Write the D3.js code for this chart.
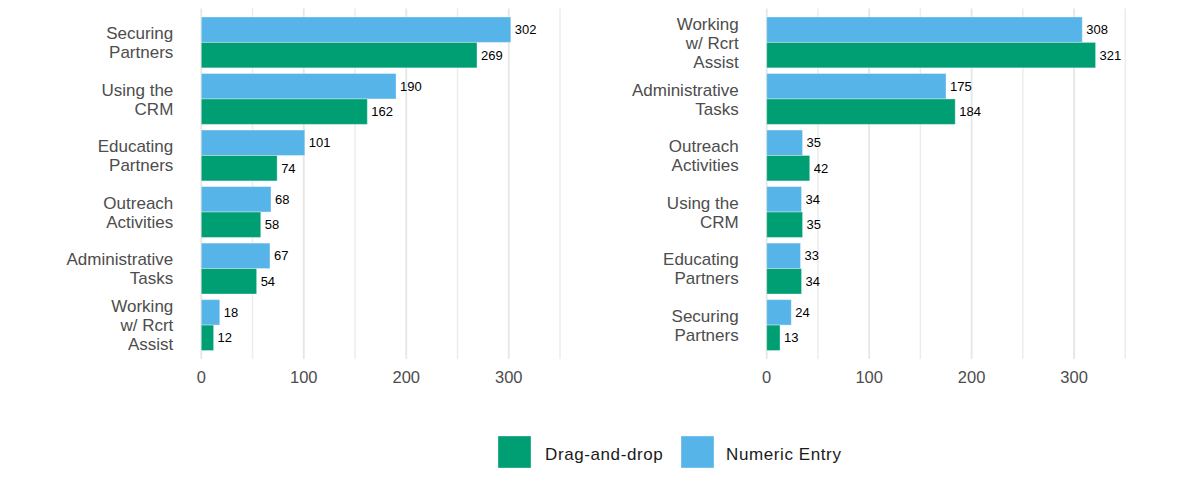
<!DOCTYPE html>
<html>
<head>
<meta charset="utf-8">
<script src="https://cdn.jsdelivr.net/npm/d3@7"></script>
<style>
  html, body { margin: 0; padding: 0; background: #ffffff; }
  svg { display: block; font-family: "Liberation Sans", Arial, sans-serif; }
</style>
</head>
<body>
<svg id="chart" width="1179" height="489"></svg>
<script>
// ---- data ----
const seriesNames = ["Numeric Entry", "Drag-and-drop"];
const seriesColors = ["#56B4E9", "#009E73"];
const legendOrder = ["Drag-and-drop", "Numeric Entry"];

const leftCategories = ["Securing\nPartners", "Using the\nCRM", "Educating\nPartners", "Outreach\nActivities", "Administrative\nTasks", "Working\nw/ Rcrt\nAssist"];
const leftNumeric = [302, 190, 101, 68, 67, 18];
const leftDrag = [269, 162, 74, 58, 54, 12];

const rightCategories = ["Working\nw/ Rcrt\nAssist", "Administrative\nTasks", "Outreach\nActivities", "Using the\nCRM", "Educating\nPartners", "Securing\nPartners"];
const rightNumeric = [308, 175, 35, 34, 33, 24];
const rightDrag = [321, 184, 42, 35, 34, 13];

const xTicks = [0, 100, 200, 300];
const xGrid = [0, 50, 100, 150, 200, 250, 300, 350];

// ---- layout ----
const svg = d3.select("#chart");
const panelTop = 8.5, panelBottom = 359;
const colorOf = d3.scaleOrdinal().domain(seriesNames).range(seriesColors);

function drawPanel(x0, x350, categories, numeric, drag) {
  const g = svg.append("g");
  const x = d3.scaleLinear().domain([0, 350]).range([x0, x350]);
  const y = d3.scaleBand().domain(categories).range([panelTop, panelBottom])
    .paddingInner(0.1).paddingOuter(0.15);
  const ySub = d3.scaleBand().domain(seriesNames).range([0, y.bandwidth()]).padding(0);

  // gridlines
  g.selectAll("line.grid").data(xGrid).join("line")
    .attr("x1", d => x(d)).attr("x2", d => x(d))
    .attr("y1", panelTop).attr("y2", panelBottom)
    .attr("stroke", d => d % 100 === 0 ? "#e6e6e6" : "#ececec")
    .attr("stroke-width", d => d % 100 === 0 ? 1.8 : 1.5);

  const rows = categories.map((c, i) => ({ cat: c, vals: [
    { s: seriesNames[0], v: numeric[i] },
    { s: seriesNames[1], v: drag[i] }
  ]}));

  const grp = g.selectAll("g.cat").data(rows).join("g")
    .attr("transform", d => `translate(0,${y(d.cat)})`);

  grp.selectAll("rect").data(d => d.vals).join("rect")
    .attr("x", x(0))
    .attr("y", d => ySub(d.s))
    .attr("width", d => x(d.v) - x(0))
    .attr("height", ySub.bandwidth())
    .attr("fill", d => colorOf(d.s))
    .attr("stroke", "#ffffff").attr("stroke-opacity", 0.35).attr("stroke-width", 1);

  grp.selectAll("text.val").data(d => d.vals).join("text")
    .attr("class", "val")
    .attr("x", d => x(d.v) + 4)
    .attr("y", d => ySub(d.s) + ySub.bandwidth() / 2)
    .attr("dy", "0.35em")
    .attr("font-size", 13)
    .attr("fill", "#000000")
    .text(d => d.v);

  // category labels
  const lab = g.selectAll("text.cat").data(categories).join("text")
    .attr("class", "cat")
    .attr("text-anchor", "end")
    .attr("font-size", 17)
    .attr("fill", "#4d4d4d");
  const lh = 19;
  lab.each(function(d) {
    const lines = d.split("\n");
    const cy = y(d) + y.bandwidth() / 2;
    const first = cy - (lines.length - 1) * lh / 2;
    d3.select(this).selectAll("tspan").data(lines).join("tspan")
      .attr("x", x(0) - 28)
      .attr("y", (l, i) => first + i * lh)
      .attr("dy", "0.36em")
      .text(l => l);
  });

  // x tick labels
  g.selectAll("text.tick").data(xTicks).join("text")
    .attr("class", "tick")
    .attr("x", d => x(d)).attr("y", 376.7).attr("dy", "0.36em")
    .attr("text-anchor", "middle")
    .attr("font-size", 16.5)
    .attr("fill", "#4d4d4d")
    .text(d => d);
}

drawPanel(201.3, 560, leftCategories, leftNumeric, leftDrag);
drawPanel(766.7, 1125.3, rightCategories, rightNumeric, rightDrag);

// legend
const legendItems = [
  { name: legendOrder[0], kx: 498, tx: 545 },
  { name: legendOrder[1], kx: 681, tx: 726 }
];
const lg = svg.append("g");
lg.selectAll("rect").data(legendItems).join("rect")
  .attr("x", d => d.kx).attr("y", 436).attr("width", 33).attr("height", 32)
  .attr("fill", d => colorOf(d.name))
  .attr("stroke", "#ffffff").attr("stroke-opacity", 0.35).attr("stroke-width", 1);
lg.selectAll("text").data(legendItems).join("text")
  .attr("x", d => d.tx).attr("y", 453.5).attr("dy", "0.36em")
  .attr("font-size", 17).attr("letter-spacing", 0.6).attr("fill", "#1a1a1a")
  .text(d => d.name);
</script>
</body>
</html>
